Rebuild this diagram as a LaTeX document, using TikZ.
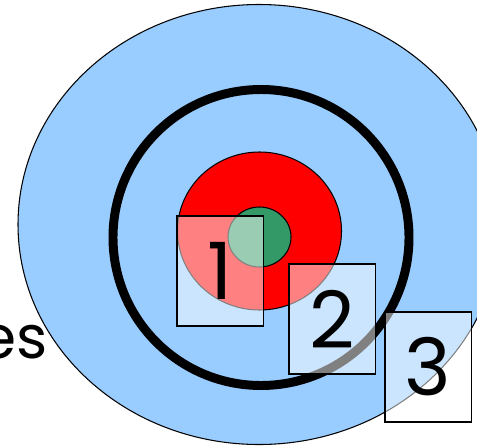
\documentclass[tikz,border=0pt]{standalone}
\usepackage{fontspec}
\setmainfont{Poppins}
\usetikzlibrary{positioning}
\definecolor{SkyFill}{HTML}{99CCFF}
\definecolor{CoreGreen}{HTML}{339966}
\tikzset{ring/.style={draw=black,line width=.6pt},
 tag/.style={draw=black,line width=.9pt,fill=white,fill opacity=.5,text opacity=1,
 minimum width=1.732cm,minimum height=2.206cm,inner sep=0pt,
 font=\fontsize{45}{45}\selectfont}}

\begin{document}
\begin{tikzpicture}[x=0.02cm,y=-0.02cm]
\useasboundingbox (0,0) rectangle (477,447);
\clip (0,0) rectangle (477,447);
\draw[ring,fill=SkyFill] (259,224.5) ellipse [x radius=241,y radius=220];
\draw[line width=5.1pt] (261,237.5) circle [radius=148];
\draw[ring,fill=red] (259.5,231) ellipse [x radius=82,y radius=79];
\draw[ring,fill=CoreGreen] (259.5,237) ellipse [x radius=31.5,y radius=30];
\node[anchor=base east,inner sep=0pt,font=\fontsize{34}{34}\selectfont] (lbl) at (48,358) {es};
\foreach \n/\x/\y in {1/220/271,2/332/319,3/428/367}
 \node[tag] (box\n) at (\x,\y) {\n};
\end{tikzpicture}
\end{document}
